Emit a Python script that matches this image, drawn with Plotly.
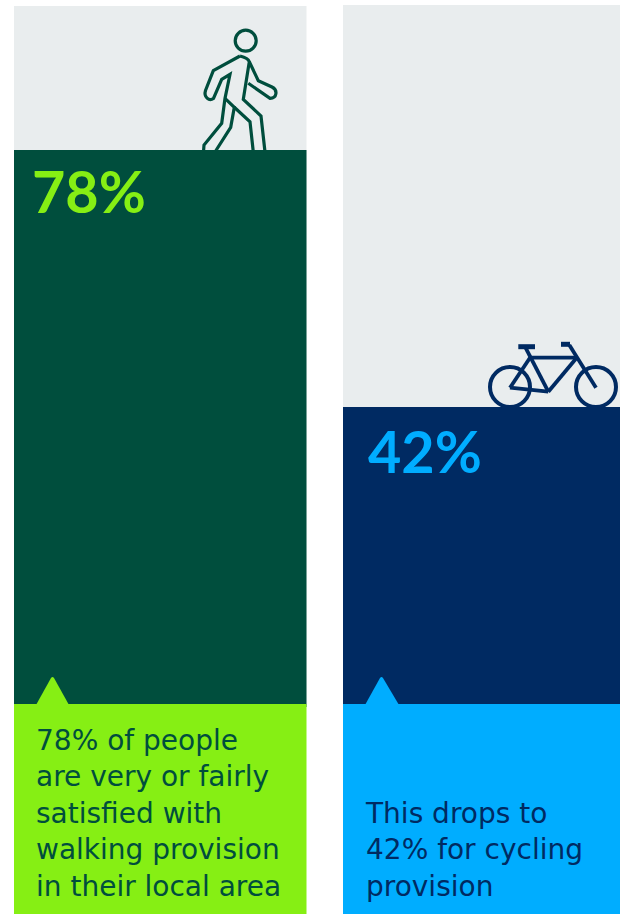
import plotly.graph_objects as go

# Satisfaction figures
modes = ["Walking", "Cycling"]
satisfied_pct = [78, 42]
captions = [
    ["78% of people", "are very or fairly", "satisfied with", "walking provision", "in their local area"],
    ["This drops to", "42% for cycling", "provision"],
]

W, H = 620, 914
LABEL_FONT = "Lato"
BODY_FONT = "DejaVu Sans"
BAR_COLOR = ["#004e3d", "#002a62"]
ACCENT = ["#86ef14", "#00adff"]
TRACK = "#e9edee"

# Panel geometry in page pixels
PANEL_X = [(14, 306.5), (343, 620)]
TRACK_TOP = [6, 5]
BASE_Y = 704
ZERO_Y = 706.8
PX_PER_PCT = 7.139
PCT_LABEL_X = [30.5, 366.5]
PCT_LABEL_Y = [190, 450]
CAPTION_X = [34.5, 363.5]
CAPTION_BOTTOM = 903.8
TIP_X = [(36, 52.5, 69), (365, 381.5, 399)]
TIP_TOP = 676

shapes = []

def line_path(pts):
    return "M" + " L".join(f"{x},{y}" for x, y in pts)

# Unfilled background of each panel
for (x0, x1), top in zip(PANEL_X, TRACK_TOP):
    shapes.append(dict(type="rect", xref="x", yref="y", x0=x0, x1=x1, y0=top, y1=BASE_Y + 1,
                       fillcolor=TRACK, line_width=0, layer="below"))

# Walking figure
walker_paths = [
    "M240,56 L213.3,70.7 L205.5,90.5 C203.5,97 209,101.5 213.5,98.5 L221.7,79.3 L230,74.3 "
    "L225,98.3 L221.7,123.3 L204,145 L203.5,152",
    "M225,98.3 L234.3,107.3 L230.7,127.3 L215,152",
    "M234.3,107.3 L250,121.7 L253.3,152",
    "M265,152 L261,116 L243.3,99.3 L249.3,61.7 C248,58 244,57 240,56",
    "M249.3,61.7 L258.3,80.7 L272,87 C278,90 277,98 270,98.3 L248.3,83.3",
]
for d in walker_paths:
    shapes.append(dict(type="path", xref="x", yref="y", path=d, layer="below",
                       line=dict(color=BAR_COLOR[0], width=3.2)))
shapes.append(dict(type="circle", xref="x", yref="y", x0=235.2, x1=256.2, y0=30.2, y1=51.2,
                   layer="below", line=dict(color=BAR_COLOR[0], width=3.2)))

# Bicycle
for cx in (510, 596):
    shapes.append(dict(type="circle", xref="x", yref="y", x0=cx - 20, x1=cx + 20, y0=367, y1=407,
                       layer="below", line=dict(color=BAR_COLOR[1], width=4)))
bike_lines = [
    [(525, 346.7), (548.3, 391.7)],
    [(530, 357.7), (576.7, 357.7)],
    [(576.7, 357.7), (548.3, 391.7)],
    [(530, 357.7), (510, 387.7)],
    [(510, 387.7), (548.3, 391.7)],
    [(569.3, 345), (596, 387.7)],
]
for pts in bike_lines:
    shapes.append(dict(type="path", xref="x", yref="y", path=line_path(pts), layer="below",
                       line=dict(color=BAR_COLOR[1], width=3.8)))
for pts in [[(518.3, 346.7), (535, 346.7)], [(561, 344.3), (570, 344.3)]]:
    shapes.append(dict(type="path", xref="x", yref="y", path=line_path(pts), layer="below",
                       line=dict(color=BAR_COLOR[1], width=5)))

# Caption blocks and their pointers
for i, (x0, x1) in enumerate(PANEL_X):
    shapes.append(dict(type="rect", xref="x", yref="y", x0=x0, x1=x1, y0=BASE_Y, y1=H,
                       fillcolor=ACCENT[i], line_width=0, layer="above"))
    a, b, c = TIP_X[i]
    shapes.append(dict(type="path", xref="x", yref="y", layer="above", fillcolor=ACCENT[i], line_width=0,
                       path=f"M{a},{BASE_Y+1} L{b-1.5},{TIP_TOP+2} Q{b},{TIP_TOP} {b+1.5},{TIP_TOP+2} L{c},{BASE_Y+1} Z"))

fig = go.Figure()

y_range = [-(H - ZERO_Y) / PX_PER_PCT, ZERO_Y / PX_PER_PCT]

for i in range(2):
    fig.add_trace(go.Bar(
        x=[modes[i]], y=[satisfied_pct[i]], marker=dict(color=BAR_COLOR[i], line_width=0),
        xaxis=f"x{i + 2}", yaxis=f"y{i + 2}", showlegend=False, hoverinfo="skip",
    ))

annotations = []

for i in range(2):
    annotations.append(dict(
        xref="x", yref="y", x=PCT_LABEL_X[i], y=PCT_LABEL_Y[i], text=f"<b>{satisfied_pct[i]}%</b>",
        showarrow=False, xanchor="left", yanchor="middle", borderpad=0,
        font=dict(family=LABEL_FONT, size=57.5, color=ACCENT[i]),
    ))
    annotations.append(dict(
        xref="x", yref="y", x=CAPTION_X[i], y=CAPTION_BOTTOM, text="<br>".join(captions[i]),
        showarrow=False, xanchor="left", yanchor="bottom", align="left", borderpad=0,
        font=dict(family=BODY_FONT, size=28, color=BAR_COLOR[i]),
    ))

hidden = dict(visible=False, fixedrange=True)
layout_axes = dict(
    xaxis=dict(range=[0, W], domain=[0, 1], **hidden),
    yaxis=dict(range=[H, 0], domain=[0, 1], **hidden),
    xaxis2=dict(domain=[PANEL_X[0][0] / W, PANEL_X[0][1] / W], range=[-0.5, 0.5], anchor="y2", **hidden),
    yaxis2=dict(domain=[0, 1], range=y_range, anchor="x2", **hidden),
    xaxis3=dict(domain=[PANEL_X[1][0] / W, PANEL_X[1][1] / W], range=[-0.5, 0.5], anchor="y3", **hidden),
    yaxis3=dict(domain=[0, 1], range=y_range, anchor="x3", **hidden),
)

fig.update_layout(
    width=W, height=H, margin=dict(l=0, r=0, t=0, b=0), autosize=False,
    paper_bgcolor="white", plot_bgcolor="rgba(0,0,0,0)",
    bargap=0, showlegend=False, shapes=shapes, annotations=annotations,
    **layout_axes,
)

fig.write_html("out.html", config=dict(displayModeBar=False))
